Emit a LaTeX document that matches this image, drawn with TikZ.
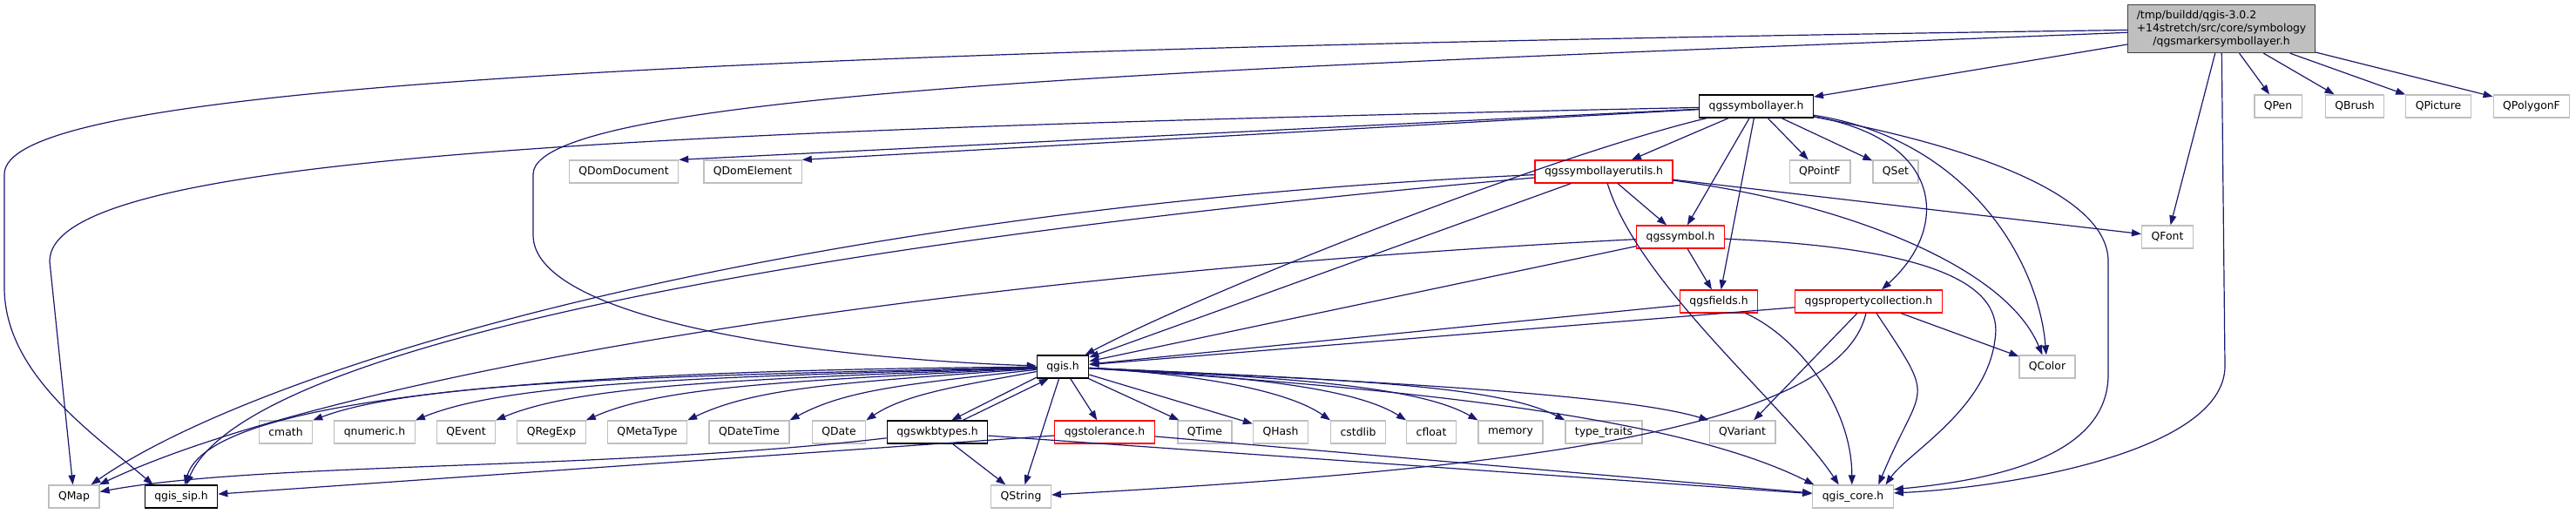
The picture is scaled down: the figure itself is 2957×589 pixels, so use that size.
\documentclass[tikz,border=0pt]{standalone}
\usepackage{fontspec}
\setmainfont{DejaVu Sans}
\usetikzlibrary{arrows.meta}
\definecolor{edgeblue}{HTML}{191970}
\definecolor{nodegrey}{HTML}{BFBFBF}

\begin{document}
\begin{tikzpicture}[x = 1pt, y = -1pt]
	\tikzstyle{boxStyle} = [shape = rectangle, minimum height = 26pt, inner xsep = 11pt, inner ysep = 0pt, line width = 1.3pt, fill = white, font = \fontsize{12.4}{15}\selectfont]
	\tikzstyle{mainStyle} = [boxStyle, draw = black!75, fill = nodegrey, minimum height = 55pt, inner xsep = 10pt]
	\tikzstyle{docStyle} = [boxStyle, draw = black]
	\tikzstyle{brokenStyle} = [boxStyle, draw = red]
	\tikzstyle{extStyle} = [boxStyle, draw = nodegrey]
	\tikzstyle{depStyle} = [draw = edgeblue, line width = 1.2pt, -{Triangle[length = 11pt, width = 8pt]}]
	\useasboundingbox (0, 0) rectangle (2957, 589);
	\node[mainStyle] (marker) at (2550, 33) {\begin{tabular}{@{}l@{}}/tmp/buildd/qgis-3.0.2\\+14stretch/src/core/symbology\\\multicolumn{1}{@{}c@{}}{/qgsmarkersymbollayer.h}\end{tabular}};
	\node[docStyle] (symlayer) at (2016, 122) {qgssymbollayer.h};
	\node[extStyle] (qpen) at (2615, 122) {QPen};
	\node[extStyle] (qbrush) at (2703, 122) {QBrush};
	\node[extStyle] (qpicture) at (2799, 122) {QPicture};
	\node[extStyle] (qpolygonf) at (2906, 122) {QPolygonF};
	\node[extStyle] (qdomdocument) at (716, 197) {QDomDocument};
	\node[extStyle] (qdomelement) at (864, 197) {QDomElement};
	\node[brokenStyle] (utils) at (1841, 197) {qgssymbollayerutils.h};
	\node[extStyle] (qpointf) at (2089, 197) {QPointF};
	\node[extStyle] (qset) at (2176, 197) {QSet};
	\node[brokenStyle] (symbol) at (1929, 272) {qgssymbol.h};
	\node[extStyle] (qfont) at (2488, 272) {QFont};
	\node[brokenStyle] (fields) at (1973, 346) {qgsfields.h};
	\node[brokenStyle] (propcoll) at (2145, 346) {qgspropertycollection.h};
	\node[docStyle] (qgis) at (1220, 421) {qgis.h};
	\node[extStyle] (qcolor) at (2350, 421) {QColor};
	\node[extStyle] (cmath) at (328, 496) {cmath};
	\node[extStyle] (qnumeric) at (430, 496) {qnumeric.h};
	\node[extStyle] (qevent) at (535, 496) {QEvent};
	\node[extStyle] (qregexp) at (633, 496) {QRegExp};
	\node[extStyle] (qmetatype) at (743, 496) {QMetaType};
	\node[extStyle] (qdatetime) at (860, 496) {QDateTime};
	\node[extStyle] (qdate) at (963, 496) {QDate};
	\node[docStyle] (wkbtypes) at (1076, 496) {qgswkbtypes.h};
	\node[brokenStyle] (tolerance) at (1268, 496) {qgstolerance.h};
	\node[extStyle] (qtime) at (1383, 496) {QTime};
	\node[extStyle] (qhash) at (1470, 496) {QHash};
	\node[extStyle] (cstdlib) at (1559, 496) {cstdlib};
	\node[extStyle] (cfloat) at (1643, 496) {cfloat};
	\node[extStyle] (memory) at (1734, 496) {memory};
	\node[extStyle] (typetraits) at (1841, 496) {type\_traits};
	\node[extStyle] (qvariant) at (2000, 496) {QVariant};
	\node[extStyle] (qmap) at (85, 570) {QMap};
	\node[docStyle] (qgissip) at (208, 570) {qgis\_sip.h};
	\node[extStyle] (qstring) at (1172, 570) {QString};
	\node[extStyle] (qgiscore) at (2127, 570) {qgis\_core.h};
	\draw[depStyle] (marker) -- (symlayer);
	\draw[depStyle] (marker) -- (qpen);
	\draw[depStyle] (marker) -- (qbrush);
	\draw[depStyle] (marker) -- (qpicture);
	\draw[depStyle] (marker) -- (qpolygonf);
	\draw[depStyle] (marker) -- (qfont);
	\draw[depStyle] (marker) -- (2554, 420) .. controls (2554, 520) and (2300, 560) .. (qgiscore.5);
	\draw[depStyle] (marker) .. controls (1500, 75) and (612, 100) .. (612, 200) -- (612, 270) .. controls (612, 360) and (900, 410) .. (qgis);
	\draw[depStyle] (marker) .. controls (600, 60) and (5, 110) .. (5, 200) -- (5, 330) .. controls (5, 430) and (110, 500) .. ([xshift = 10pt]qgissip.north west);
	\draw[depStyle] (symlayer) .. controls (700, 150) and (57, 180) .. (57, 300) -- (qmap);
	\draw[depStyle] (symlayer) -- (qdomdocument.north east);
	\draw[depStyle] (symlayer) -- (qdomelement.north east);
	\draw[depStyle] (symlayer) .. controls +(-250, 60) and +(150, -80) .. (qgis);
	\draw[depStyle] (symlayer) -- (utils);
	\draw[depStyle] (symlayer) -- (symbol);
	\draw[depStyle] (symlayer) -- (fields);
	\draw[depStyle] (symlayer) -- (qpointf);
	\draw[depStyle] (symlayer) -- (qset);
	\draw[depStyle] (symlayer) .. controls (2230, 160) and (2240, 260) .. (propcoll);
	\draw[depStyle] (symlayer) .. controls (2260, 160) and (2340, 300) .. (qcolor);
	\draw[depStyle] (symlayer) .. controls (2250, 165) and (2420, 220) .. (2420, 300) -- (2420, 430) .. controls (2420, 520) and (2300, 550) .. (qgiscore.10);
	\draw[depStyle] (utils) -- (symbol);
	\draw[depStyle] (utils) -- (qfont);
	\draw[depStyle] (utils) .. controls (2100, 230) and (2300, 300) .. (qcolor);
	\draw[depStyle] (utils) -- (qgis);
	\draw[depStyle] (utils) .. controls (900, 240) and (300, 420) .. (qmap);
	\draw[depStyle] (utils) .. controls (900, 280) and (280, 400) .. (qgissip);
	\draw[depStyle] (utils) .. controls +(40, 130) and +(-60, -90) .. (qgiscore.140);
	\draw[depStyle] (symbol) -- (fields);
	\draw[depStyle] (symbol) -- (qgis);
	\draw[depStyle] (symbol) .. controls (1000, 320) and (360, 440) .. (qmap);
	\draw[depStyle] (symbol) .. controls (2230, 285) and (2300, 330) .. (2290, 390) .. controls (2280, 470) and (2190, 520) .. (qgiscore.20);
	\draw[depStyle] (fields) -- (qgis);
	\draw[depStyle] (fields) .. controls +(90, 40) and +(0, -90) .. (qgiscore.95);
	\draw[depStyle] (propcoll) -- (qgis);
	\draw[depStyle] (propcoll) -- (qvariant);
	\draw[depStyle] (propcoll) -- (qcolor);
	\draw[depStyle] (propcoll) .. controls (2110, 500) and (1700, 540) .. (qstring);
	\draw[depStyle] (propcoll) .. controls +(80, 120) and +(50, -120) .. (qgiscore.25);
	\draw[depStyle] (qgis) .. controls +(-450, 10) and +(120, -45) .. (cmath.north east);
	\draw[depStyle] (qgis) .. controls +(-400, 12) and +(110, -45) .. (qnumeric.north east);
	\draw[depStyle] (qgis) .. controls +(-350, 14) and +(100, -42) .. (qevent.north east);
	\draw[depStyle] (qgis) .. controls +(-300, 16) and +(90, -40) .. (qregexp.north east);
	\draw[depStyle] (qgis) .. controls +(-250, 18) and +(80, -38) .. (qmetatype.north east);
	\draw[depStyle] (qgis) .. controls +(-180, 20) and +(65, -35) .. (qdatetime.north east);
	\draw[depStyle] (qgis) .. controls +(-120, 22) and +(45, -30) .. (qdate.north east);
	\draw[depStyle] (qgis) .. controls (600, 425) and (240, 460) .. (qgissip);
	\draw[depStyle] (qgis.202) -- (wkbtypes.40);
	\draw[depStyle] (wkbtypes.25) -- (qgis.220);
	\draw[depStyle] (qgis) -- (qstring);
	\draw[depStyle] (qgis) -- (tolerance);
	\draw[depStyle] (qgis) -- (qtime);
	\draw[depStyle] (qgis) -- (qhash);
	\draw[depStyle] (qgis) .. controls +(150, 8) and +(-50, -35) .. (cstdlib.north west);
	\draw[depStyle] (qgis) .. controls +(200, 10) and +(-60, -38) .. (cfloat.north west);
	\draw[depStyle] (qgis) .. controls +(250, 12) and +(-70, -40) .. (memory.north west);
	\draw[depStyle] (qgis) .. controls +(300, 14) and +(-80, -42) .. (typetraits.north west);
	\draw[depStyle] (qgis) .. controls +(350, 16) and +(-100, -30) .. (qvariant.north west);
	\draw[depStyle] (qgis) .. controls (1700, 450) and (1950, 490) .. (qgiscore.163);
	\draw[depStyle] (wkbtypes) -- (qstring);
	\draw[depStyle] (wkbtypes) .. controls (700, 540) and (300, 530) .. (qmap);
	\draw[depStyle] (wkbtypes) -- (qgiscore);
	\draw[depStyle] (tolerance) -- (qgissip);
	\draw[depStyle] (tolerance) -- (qgiscore);
\end{tikzpicture}
\end{document}
